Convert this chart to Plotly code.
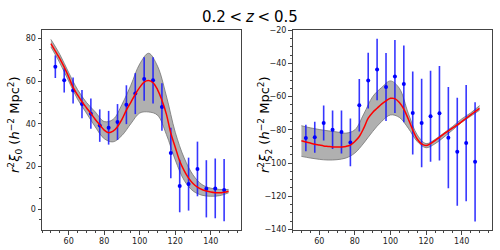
import plotly.graph_objects as go

# ---------------- data ----------------
r_data = [52.5, 57.5, 62.5, 67.5, 72.5, 77.5, 82.5, 87.5, 92.5, 97.5,
          102.5, 107.5, 112.5, 117.5, 122.5, 127.5, 132.5, 137.5, 142.5, 147.5]

xi0_data = [66.7, 60.3, 55.6, 49.2, 44.7, 39.1, 38.1, 40.8, 48.9, 54.1,
            60.9, 60.3, 47.8, 26.3, 10.8, 11.7, 18.8, 9.5, 9.7, 8.9]
xi0_err = [5.3, 5.7, 6.1, 6.6, 7.1, 7.6, 7.9, 8.4, 9.1, 9.6,
           10.2, 10.8, 11.1, 11.8, 12.3, 12.4, 12.8, 13.4, 14.0, 14.6]

xi2_data = [-84.9, -84.5, -75.9, -79.9, -81.3, -87.6, -65.2, -50.3, -43.6, -54.1,
            -47.8, -52.3, -69.8, -75.9, -71.8, -70.0, -84.7, -93.2, -88.0, -99.3]
xi2_err = [8.0, 9.3, 10.5, 11.6, 12.9, 14.4, 15.8, 16.8, 18.5, 20.5,
           22.0, 23.2, 25.0, 26.7, 27.5, 28.5, 30.5, 32.6, 35.0, 36.0]

r_model = [50, 52.5, 55, 57.5, 60, 62.5, 65, 67.5, 70, 72.5, 75, 77.5, 80, 82.5,
           85, 87.5, 90, 92.5, 95, 97.5, 100, 102.5, 105, 107.5, 110, 112.5, 115,
           117.5, 120, 122.5, 125, 127.5, 130, 132.5, 135, 137.5, 140, 142.5, 145,
           147.5, 150]

xi0_model = [77.5, 74.0, 70.5, 66.5, 62.0, 57.0, 53.5, 50.3, 47.5, 44.8, 42.0, 39.5,
             37.0, 35.8, 36.5, 38.6, 42.0, 46.4, 50.0, 53.8, 57.0, 59.5, 60.2, 59.2,
             56.0, 51.0, 44.5, 35.5, 29.0, 22.5, 18.0, 14.5, 12.0, 10.3, 9.2, 8.5,
             8.0, 7.7, 7.6, 7.9, 8.4]

xi2_model = [-86.6, -87.3, -88.0, -88.7, -89.2, -89.7, -90.0, -90.3, -90.4, -90.3,
             -90.0, -89.2, -87.0, -84.0, -79.0, -73.0, -69.5, -67.0, -64.5, -62.5,
             -61.0, -61.2, -63.5, -67.5, -73.5, -80.0, -85.5, -88.5, -89.5, -88.3,
             -86.5, -84.5, -82.5, -80.6, -78.8, -77.0, -75.0, -73.0, -71.0, -69.0,
             -67.0]

r_band = [50, 55, 60, 65, 70, 75, 80, 85, 90, 95, 100, 105, 110, 115, 120,
          125, 130, 135, 140, 145, 150]

xi0_upper = [79.5, 72.5, 64.0, 56.0, 50.0, 45.5, 41.0, 42.0, 49.0, 58.0, 68.0,
             73.0, 67.0, 53.0, 36.0, 24.0, 16.0, 11.5, 9.8, 9.2, 9.2]
xi0_lower = [76.0, 68.5, 60.0, 51.5, 45.0, 38.5, 33.0, 31.5, 34.5, 40.0, 45.0,
             45.5, 44.0, 35.0, 23.0, 13.5, 8.5, 6.5, 6.0, 6.3, 7.6]

xi2_upper = [-77.5, -78.8, -79.8, -80.6, -81.3, -82.0, -80.0, -70.5, -60.0, -54.5,
             -50.5, -55.0, -70.0, -83.0, -88.3, -85.8, -81.9, -77.9, -73.4, -69.8,
             -65.4]
xi2_lower = [-96.0, -97.0, -97.8, -98.2, -98.0, -97.0, -94.0, -88.0, -81.0, -75.0,
             -71.0, -72.5, -79.0, -87.0, -90.8, -88.4, -84.4, -80.0, -75.5, -71.8,
             -68.2]

title_text = "0.2\u2005<\u2005<i>z</i>\u2005<\u20050.5"
ylab0 = "<i>r</i><sup>2</sup><i>ξ</i><sub>0</sub> (<i>h</i><sup>−2</sup> Mpc<sup>2</sup>)"
ylab2 = "<i>r</i><sup>2</sup><i>ξ</i><sub>2</sub> (<i>h</i><sup>−2</sup> Mpc<sup>2</sup>)"

# ---------------- figure ----------------
FONT = "DejaVu Sans"
fig = go.Figure()

panels = [
    ("x", "y", xi0_lower, xi0_upper, xi0_model, xi0_data, xi0_err),
    ("x2", "y2", xi2_lower, xi2_upper, xi2_model, xi2_data, xi2_err),
]
for xa, ya, lo, up, mod, dat, err in panels:
    fig.add_trace(go.Scatter(x=r_band, y=lo, xaxis=xa, yaxis=ya, mode="lines",
                             line=dict(color="rgb(115,115,115)", width=0.8, shape="spline"),
                             hoverinfo="skip", showlegend=False))
    fig.add_trace(go.Scatter(x=r_band, y=up, xaxis=xa, yaxis=ya, mode="lines",
                             line=dict(color="rgb(115,115,115)", width=0.8, shape="spline"),
                             fill="tonexty", fillcolor="rgb(176,176,176)",
                             hoverinfo="skip", showlegend=False))
    fig.add_trace(go.Scatter(x=r_data, y=dat, xaxis=xa, yaxis=ya, mode="markers",
                             marker=dict(color="blue", size=4),
                             error_y=dict(type="data", array=err, visible=True,
                                          color="rgba(20,20,255,0.85)", thickness=1.6, width=0),
                             showlegend=False))
    fig.add_trace(go.Scatter(x=r_model, y=mod, xaxis=xa, yaxis=ya, mode="lines",
                             line=dict(color="red", width=1.5, shape="spline"),
                             showlegend=False))

axis_common = dict(
    showgrid=False, zeroline=False, showline=True, mirror=True,
    linecolor="#444", linewidth=1,
    ticks="outside", ticklen=3.5, tickwidth=0.8, tickcolor="#444",
    tickfont=dict(family=FONT, size=8, color="#222"),
    minor=dict(ticks="outside", ticklen=2, tickwidth=0.6, tickcolor="#444", dtick=5),
    automargin=False,
)

fig.update_layout(
    width=500, height=250,
    margin=dict(l=0, r=0, t=0, b=0),
    paper_bgcolor="white", plot_bgcolor="white",
    font=dict(family=FONT),
    xaxis=dict(domain=[0.084, 0.482], range=[45, 157], tick0=0, dtick=20, anchor="y", **axis_common),
    yaxis=dict(domain=[0.08, 0.88], range=[-9.8, 83.9], tick0=0, dtick=20, anchor="x", **axis_common),
    xaxis2=dict(domain=[0.585, 0.984], range=[45, 157], tick0=0, dtick=20, anchor="y2", **axis_common),
    yaxis2=dict(domain=[0.08, 0.88], range=[-140.4, -19.8], tick0=0, dtick=20, anchor="x2", **axis_common),
    annotations=[
        dict(text=title_text, x=0.5, y=0.932, xref="paper", yref="paper",
             showarrow=False, font=dict(family=FONT, size=15, color="black"),
             xanchor="center", yanchor="middle"),
        dict(text=ylab0, x=15 / 500, y=0.5, xref="paper", yref="paper", textangle=-90,
             showarrow=False, font=dict(family=FONT, size=13, color="black"),
             xanchor="center", yanchor="middle"),
        dict(text=ylab2, x=265 / 500, y=0.5, xref="paper", yref="paper", textangle=-90,
             showarrow=False, font=dict(family=FONT, size=13, color="black"),
             xanchor="center", yanchor="middle"),
    ],
)

fig.write_html("out.html", config={"displayModeBar": False},
               post_script="document.body.style.margin='0px';")
